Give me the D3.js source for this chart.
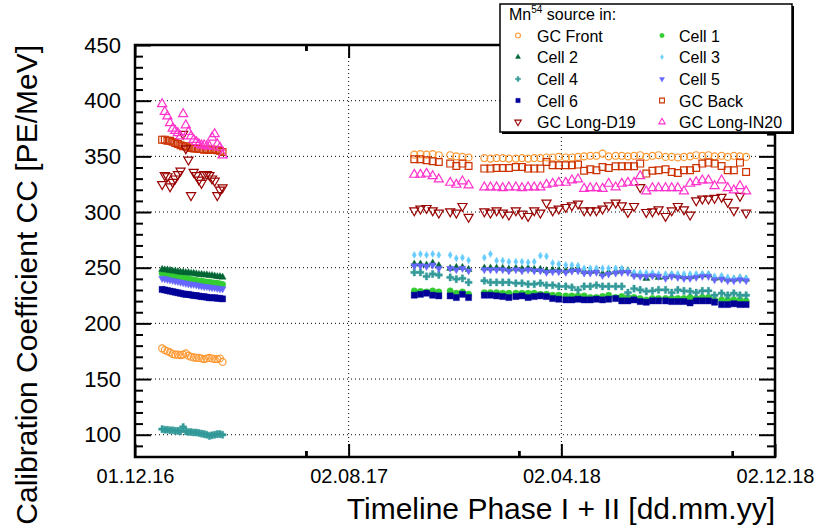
<!DOCTYPE html>
<html><head><meta charset="utf-8">
<script src="https://cdn.jsdelivr.net/npm/d3@7"></script>
<style>
body{margin:0;background:#fff}
svg{display:block}
text{font-family:"Liberation Sans",Arial,Helvetica,sans-serif;fill:#000}
</style>
</head><body>
<svg id="c" width="816" height="532"></svg>
<script>
// ---------- DATA ----------
const xDomain = ["2016-12-01", "2018-12-02"];
const xMajorTicks = ["2016-12-01", "2017-08-02", "2018-04-02", "2018-12-02"];
const xTickLabels = ["01.12.16", "02.08.17", "02.04.18", "02.12.18"];
const yDomain = [80, 450];
const yMajorTicks = [100, 150, 200, 250, 300, 350, 400, 450];
const yTickLabels = ["100", "150", "200", "250", "300", "350", "400", "450"];

const datesPhase1 = ["2017-01-01","2017-01-04","2017-01-07","2017-01-10","2017-01-13","2017-01-16","2017-01-19","2017-01-22","2017-01-25","2017-01-28","2017-01-31","2017-02-03","2017-02-06","2017-02-09","2017-02-12","2017-02-15","2017-02-18","2017-02-21","2017-02-24","2017-02-27","2017-03-02","2017-03-05","2017-03-08","2017-03-11"];
const datesPhase2 = ["2017-10-16","2017-10-23","2017-10-30","2017-11-06","2017-11-13",
  "2017-11-26","2017-12-03","2017-12-10","2017-12-17",
  "2018-01-04","2018-01-11","2018-01-18","2018-01-25","2018-02-01","2018-02-09","2018-02-16","2018-02-23","2018-03-02","2018-03-09","2018-03-16","2018-03-23","2018-03-30","2018-04-07","2018-04-14","2018-04-21",
  "2018-04-28","2018-05-05","2018-05-12","2018-05-19","2018-05-26","2018-06-03","2018-06-10","2018-06-17","2018-06-24","2018-07-01","2018-07-08","2018-07-15","2018-07-22","2018-07-30","2018-08-06","2018-08-13","2018-08-20","2018-08-27","2018-09-03","2018-09-10","2018-09-17","2018-09-24","2018-10-02","2018-10-09","2018-10-16","2018-10-23","2018-10-30"];

const gcFront1 = [177.5,176,175,174,172.5,172,172,171.5,172,173,171,170,169.5,169,169,168.5,168,168.5,169,168.5,168,168,168.5,165.5];
const gcFront2 = [351.5,352,351.5,352,351, 351,350,349.5,349, 348.5,348,348.5,348.5,348,348,348.5,348,348.5,348.5,349,349,349.5,349,349,349.5, 350,350.5,350.5,352.5,350,350.5,350.5,350,350.5,351,349.5,350.5,351,349.5,349.5,349,349.5,350,351,350.5,351,350,350.5,349.5,350.5,350,349.5];

const cell1_1 = [245,244.5,244,243.5,243,242.5,242,241.5,241,240.5,240,239.5,239,238.5,238,238,237.5,237,237,236.5,236,236,235.5,235];
const cell1_2 = [229.2,228.7,228.3,229.2,228.3, 229.2,227.1,228.3,226.3, 227.6,227.6,227.6,227.1,227.1,227.1,227.1,227.1,227.1,226.1,226.1,225.3,225.3,224.7,224.7,224.7, 224.7,223.2,223.2,224.1,225.3,223.2,224.1,223.2,223.2,222.3,221.1,222.3,222.3,222.3,222.3,222.3,222.3,223.2,222.3,223.2,223.2,221.1,221.1,221.1,221.1,221.1,220.2];

const cell2_1 = [248.5,248,248,247.5,247,247,246.5,246,246,245.5,245.5,245,245,244.5,244,244,243.5,243.5,243,243,242.5,242,242,241.5];
const cell2_2 = [253.3,253.3,252.4,254.2,251.8, 249.4,250.3,250.3,248.5, 249.7,249.7,249.7,249.5,248.7,249.5,248.7,249.5,248.5,248.5,247.3,247.9,247.9,247.3,248.5,248.5, 246.7,246.7,247.3,244.5,245.8,246.5,247.3,247.3,244.2,243.7,240.4,243.5,241.3,241.8,243.5,242.7,241.8,241.8,242.7,243.5,243.5,240.6,241,239.7,239.7,240.6,239.7];

const cell3_1 = [];
const cell3_2 = [261.4,262.3,261.4,262.3,261.4, 261.4,258.4,259,256.6, 259,262.3,256.3,256.3,255.4,255.4,255.4,254.8,255.4,260.8,260.2,254.2,253.3,252.4,252.4,251.8, 249.4,249.4,249.4,249.4,249.4,249.4,249.4,247.2,245.8,245.2,245.2,245.2,244.3,244.3,244.3,244.3,244.3,244.3,244.3,244.3,244.3,242.2,242.7,241.3,240.4,241.3,240.4];

const cell4_1 = [105,104.5,104.5,104,104,103.5,103.5,103,107,103,102.5,102.5,102,102,101.5,101,100.5,100,99,99.5,100,100.5,100.5,100];
const cell4_2 = [245.8,245.8,242.2,244.3,243.4, 241.3,239.7,240.4,236.8, 238.3,236.8,236.8,236.8,236.8,236.1,236.1,235.2,235.2,236.1,234.3,234.3,233.2,233.2,232.3,230.1, 233.2,233.2,234.3,233.2,233.2,233.2,233.2,227.6,231.2,230.1,228.7,229.2,230.1,230.1,227.6,230.1,229.2,228.7,227.6,229.2,229.2,225.3,227.1,225.3,227.1,225.3,225.3];

const cell5_1 = [240.5,240,239.5,239,238.5,238,237.5,237,236.5,236,235.5,235,235,234.5,234,233.5,233,233,232.5,232,232,231.5,231,231];
const cell5_2 = [251.8,251.8,251.2,252.4,249.4, 249.4,248.2,249.4,247.2, 248.2,248.2,248.2,248.2,247.2,248.2,247.2,248.2,247.2,247.2,245.8,246.4,246.4,245.8,247,247.2, 245.2,245.2,245.8,243,244.3,245.2,245.8,245.8,242.7,242.2,242.2,242.7,242.2,240.4,242.2,241.3,240.4,240.4,241.3,242.2,242.2,239.2,239.7,238.3,238.3,239.2,238.3];

const cell6_1 = [230.5,230,229.5,229,228.5,228,227.5,227,226.5,226,226,225.5,225,225,224.5,224,224,223.5,223,223,223,222.5,222.5,222];
const cell6_2 = [225.3,226.1,227.1,225.3,224.7, 224.7,223.2,226.1,223.2, 225.3,225.3,224.7,224.1,223.2,224.1,224.7,223.2,224.1,224.7,224.1,222.3,221.7,221.1,221.1,221.7, 221.1,221.1,221.7,221.1,221.7,222.3,220.2,220.2,221.1,219.6,219,220.2,220.2,220.2,219.6,219.6,219.6,218.4,220.2,220.2,220.2,219,216.9,216.9,217.6,216.9,216.9];

const gcBack1 = [365,365,364,364,363,362,361,360,359,359,358,357.5,357,357,356.5,356.5,356,356,356,356,356,355.5,355,354];
const gcBack2 = [347.4,347.4,346.5,345.6,345, 343.5,341.4,343.5,341.4, 339,339,339.6,339.6,339.6,340.5,340.5,339,339,339,345,342,342,342,342,342.6, 337,338.4,337.5,340.5,339.6,341.1,341.1,341.1,341.1,343.5,334.5,337,337.5,338.4,336,335.1,337.5,337.5,339.6,343.5,344.4,343.5,341.4,337.5,337.5,344.4,336];

const longD19_1 = [325,333,332,323,327,330,334,337,370,357,347,315,336,333,329,326,334,334,333,330,328,315,320,322];
const longD19_2 = [301.4,302.9,303.5,301.4,299.3, 300.5,299.3,305.3,295.6, 300.5,299.3,301.4,299.3,297.5,301.4,298.4,296.3,301.4,299.3,308.3,301.4,302.9,304.4,305.9,307.4, 301.4,301.4,301.4,302.9,305.9,308.3,305.9,299.9,305.3,322.3,299.9,300.5,302.3,296.3,301.4,305.3,302.3,297.5,310.4,311.9,311.9,312.6,313.5,309,301.4,314.4,299.3];

const longIN20_1 = [397,390,386,380,375,373,371,368,388,378,372,368,365,363,361,360,360,359,359,367,370,361,358,351];
const longIN20_2 = [333.6,333.6,334.5,332.4,329.4, 326.4,324.6,327.6,324, 322.3,322.3,322.3,321.6,322.3,322.3,321.6,322.3,322.3,322.3,324.6,325.5,326.4,326.4,328.5,329.4, 321,321.6,321.6,321,325.5,322.3,325.5,326.4,326.4,332.4,318.6,321.6,321.6,321.6,321.6,321.6,318.6,325.5,327,328.5,328.5,323.3,328.5,321.6,319.5,323.3,318.6];

const seriesNames = ["GC Front","Cell 1","Cell 2","Cell 3","Cell 4","Cell 5","Cell 6","GC Back","GC Long-D19","GC Long-IN20"];
const seriesColors = ["#ff9933","#33cc33","#006633","#66ccff","#339999","#6666ff","#000099","#cc3300","#990000","#ff33cc"];
const seriesPhase1 = [gcFront1, cell1_1, cell2_1, cell3_1, cell4_1, cell5_1, cell6_1, gcBack1, longD19_1, longIN20_1];
const seriesPhase2 = [gcFront2, cell1_2, cell2_2, cell3_2, cell4_2, cell5_2, cell6_2, gcBack2, longD19_2, longIN20_2];

// ---------- STYLE ----------
// marker: [d3 symbol, area, filled, rotation]
const markerStyle = [
  [d3.symbolCircle, 38, false, 0],
  [d3.symbolCircle, 32, true, 0],
  [d3.symbolTriangle, 22, true, 0],
  [d3.symbolDiamond, 15, true, 0],
  [d3.symbolCross, 28, true, 0],
  [d3.symbolTriangle, 22, true, 180],
  [d3.symbolSquare, 38, true, 0],
  [d3.symbolSquare, 46, false, 0],
  [d3.symbolTriangle, 36, false, 180],
  [d3.symbolTriangle, 36, false, 0]
];
const legendMarkerScale = 0.5;

const W = 816, H = 532;
const L = 135, R = 775, T = 45, B = 457;
const parse = d3.utcParse("%Y-%m-%d");

const svg = d3.select("#c");
svg.append("rect").attr("width", W).attr("height", H).attr("fill", "#fff");

const x = d3.scaleUtc().domain(xDomain.map(parse)).range([L, R]);
const y = d3.scaleLinear().domain(yDomain).range([B, T]);

// grid
const grid = svg.append("g").attr("stroke", "#000").attr("stroke-width", 1).attr("stroke-dasharray", "1,3");
grid.selectAll("line.gy").data(yMajorTicks.filter(v => v > yDomain[0] && v < yDomain[1]))
  .join("line").attr("x1", L).attr("x2", R).attr("y1", d => y(d)).attr("y2", d => y(d));
grid.selectAll("line.gx").data(xMajorTicks.slice(1, -1))
  .join("line").attr("x1", d => x(parse(d))).attr("x2", d => x(parse(d))).attr("y1", T).attr("y2", B);

// data
const plot = svg.append("g");
seriesNames.forEach((name, si) => {
  const [type, size, filled, rot] = markerStyle[si];
  const col = seriesColors[si];
  const pts = seriesPhase1[si].map((v, i) => ({d: parse(datesPhase1[i]), v}))
    .concat(seriesPhase2[si].map((v, i) => ({d: parse(datesPhase2[i]), v})));
  const sym = d3.symbol().type(type).size(size)();
  plot.append("g").selectAll("path").data(pts).join("path")
    .attr("d", sym)
    .attr("transform", p => `translate(${x(p.d)},${y(p.v)}) rotate(${rot})`)
    .attr("fill", filled ? col : "none")
    .attr("stroke", col)
    .attr("stroke-width", filled ? 0.4 : 1.2);
});

// axes
function styleAxis(g) {
  g.select(".domain").remove();
  g.selectAll(".tick line").attr("stroke", "#000").attr("stroke-width", 2);
}
const yMinor = d3.range(yDomain[0], yDomain[1] + 1, 10).filter(v => !yMajorTicks.includes(v) && v > yDomain[0]);
svg.append("g").attr("transform", `translate(${L},0)`)
  .call(d3.axisLeft(y).tickValues(yMajorTicks).tickSizeInner(-16).tickSizeOuter(0).tickPadding(14)
    .tickFormat((d, i) => yTickLabels[i]))
  .call(styleAxis)
  .call(g => g.selectAll("text").attr("font-size", 22).attr("font-family", "Liberation Sans, Arial, sans-serif"));
svg.append("g").attr("transform", `translate(${L},0)`)
  .call(d3.axisLeft(y).tickValues(yMinor).tickSizeInner(-8).tickSizeOuter(0).tickFormat(""))
  .call(styleAxis);
svg.append("g").attr("transform", `translate(${R},0)`)
  .call(d3.axisRight(y).tickValues(yMajorTicks).tickSizeInner(-16).tickSizeOuter(0).tickFormat(""))
  .call(styleAxis);
svg.append("g").attr("transform", `translate(${R},0)`)
  .call(d3.axisRight(y).tickValues(yMinor).tickSizeInner(-8).tickSizeOuter(0).tickFormat(""))
  .call(styleAxis);

const xMaj = xMajorTicks.map(parse);
const xMinor = [];
for (let i = 0; i < xMaj.length - 1; i++) {
  const interp = d3.interpolateDate(xMaj[i], xMaj[i + 1]);
  for (let j = 1; j < 5; j++) xMinor.push(interp(j / 5));
}
svg.append("g").attr("transform", `translate(0,${B})`)
  .call(d3.axisBottom(x).tickValues(xMaj).tickSizeInner(-13).tickSizeOuter(0).tickPadding(12)
    .tickFormat((d, i) => xTickLabels[i]))
  .call(styleAxis)
  .call(g => g.selectAll("text").attr("font-size", 20).attr("font-family", "Liberation Sans, Arial, sans-serif"));
svg.append("g").attr("transform", `translate(0,${B})`)
  .call(d3.axisBottom(x).tickValues(xMinor).tickSizeInner(-6).tickSizeOuter(0).tickFormat(""))
  .call(styleAxis);
svg.append("g").attr("transform", `translate(0,${T})`)
  .call(d3.axisTop(x).tickValues(xMaj).tickSizeInner(-13).tickSizeOuter(0).tickFormat(""))
  .call(styleAxis);
svg.append("g").attr("transform", `translate(0,${T})`)
  .call(d3.axisTop(x).tickValues(xMinor).tickSizeInner(-6).tickSizeOuter(0).tickFormat(""))
  .call(styleAxis);

// frame
svg.append("rect").attr("x", L).attr("y", T).attr("width", R - L).attr("height", B - T)
  .attr("fill", "none").attr("stroke", "#000").attr("stroke-width", 2.5);

// titles
svg.append("text").attr("x", R).attr("y", 519).attr("text-anchor", "end").attr("font-size", 30)
  .text("Timeline Phase I + II [dd.mm.yy]");
svg.append("text").attr("transform", "translate(37,45) rotate(-90)").attr("text-anchor", "end").attr("font-size", 30)
  .text("Calibration Coefficient CC [PE/MeV]");

// legend
const lg = svg.append("g");
lg.append("rect").attr("x", 502).attr("y", 6).attr("width", 292).attr("height", 128).attr("fill", "#000");
lg.append("rect").attr("x", 500).attr("y", 4).attr("width", 292).attr("height", 128)
  .attr("fill", "#fff").attr("stroke", "#000").attr("stroke-width", 1.5);
const lt = lg.append("text").attr("x", 509).attr("y", 20).attr("font-size", 16);
lt.append("tspan").text("Mn");
lt.append("tspan").attr("dy", -7).attr("font-size", 10).text("54");
lt.append("tspan").attr("dy", 7).text(" source in:");
const rowY = [35.5, 57, 79, 100.5, 122];
const colMX = [518, 662], colTX = [537, 679];
seriesNames.forEach((name, si) => {
  const r = Math.floor(si / 2), c = si % 2;
  const [type, size, filled, rot] = markerStyle[si];
  const col = seriesColors[si];
  lg.append("path").attr("d", d3.symbol().type(type).size(size * legendMarkerScale)())
    .attr("transform", `translate(${colMX[c]},${rowY[r]}) rotate(${rot})`)
    .attr("fill", filled ? col : "none").attr("stroke", col).attr("stroke-width", filled ? 0.4 : 1.1);
  lg.append("text").attr("x", colTX[c]).attr("y", rowY[r] + 6).attr("font-size", 16).text(name);
});
</script>
</body></html>
